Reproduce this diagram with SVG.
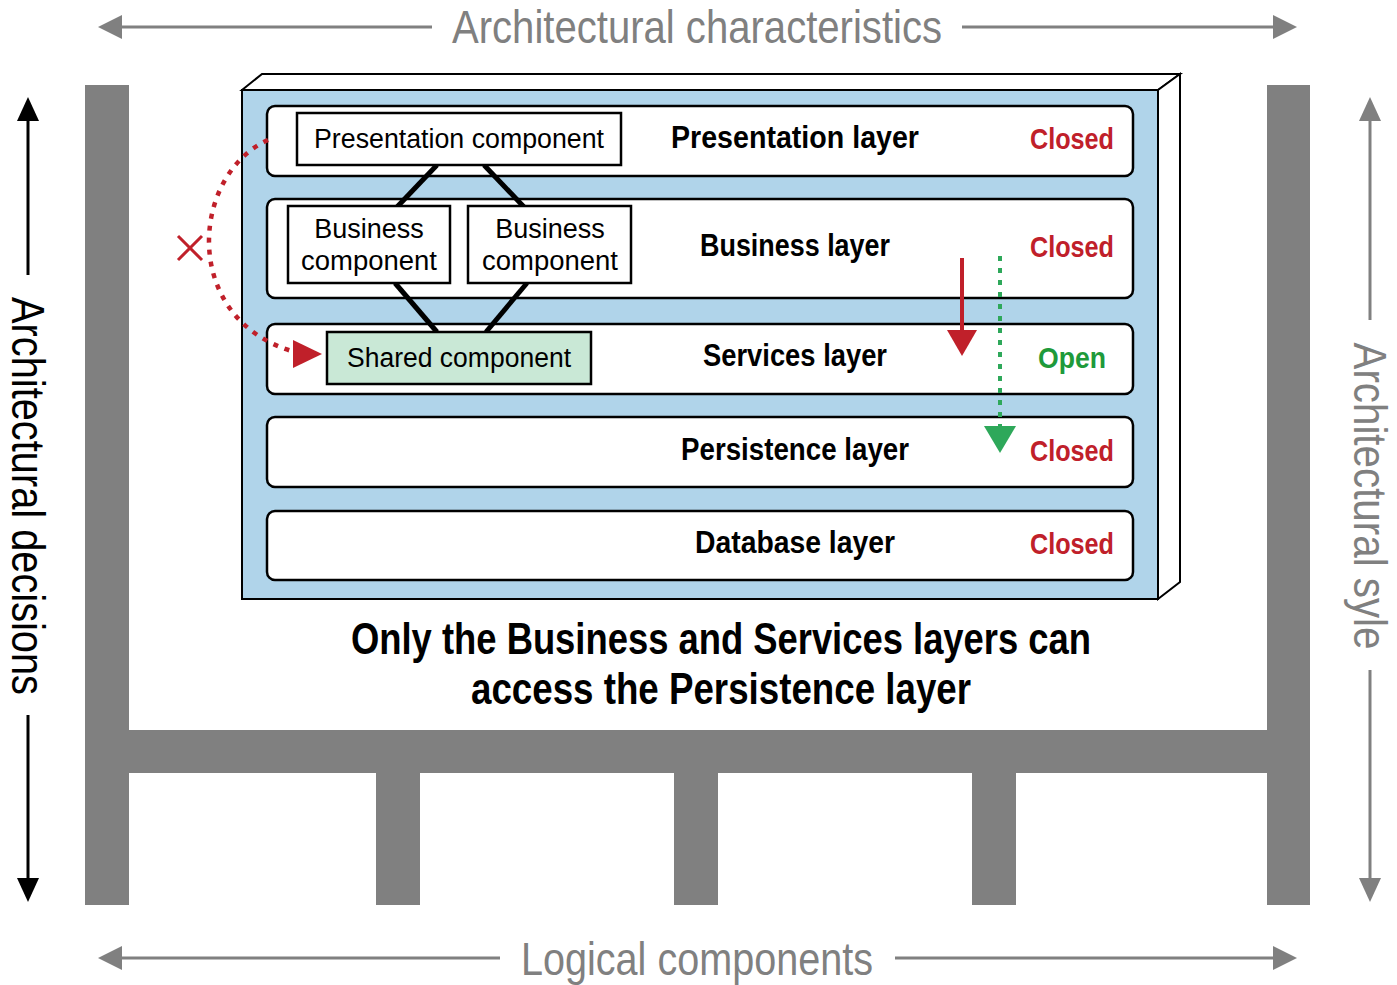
<svg xmlns="http://www.w3.org/2000/svg" width="1397" height="985" viewBox="0 0 1397 985">
<defs>
<style>
text{font-family:"Liberation Sans",Arial,sans-serif}
.g{fill:#808080}
.gl{stroke:#808080;stroke-width:3;fill:none}
.layer{fill:#fff;stroke:#000;stroke-width:2.5}
.lt{font-size:32px;text-anchor:middle;fill:#000;font-weight:bold}
.st{font-size:30px;text-anchor:middle;font-weight:bold;fill:#c0202a}
.comp{fill:#fff;stroke:#000;stroke-width:2.5}
.ct{font-size:27px;text-anchor:middle}
</style>
</defs>
<g id="frame">
<rect class="g" x="85" y="85" width="44" height="820"/>
<rect class="g" x="1267" y="85" width="43" height="820"/>
<rect class="g" x="85" y="730" width="1225" height="43"/>
<rect class="g" x="376" y="773" width="44" height="132"/>
<rect class="g" x="674" y="773" width="44" height="132"/>
<rect class="g" x="972" y="773" width="44" height="132"/>
</g>
<g id="labels-outer">
<line class="gl" x1="120" y1="27" x2="432" y2="27"/><path d="M98,27l24,-12v24z" class="g"/>
<line class="gl" x1="962" y1="27" x2="1275" y2="27"/><path d="M1297,27l-24,-12v24z" class="g"/>
<text x="697" y="43" font-size="46" text-anchor="middle" fill="#808080" textLength="490" lengthAdjust="spacingAndGlyphs">Architectural characteristics</text>
<line class="gl" x1="120" y1="958" x2="500" y2="958"/><path d="M98,958l24,-12v24z" class="g"/>
<line class="gl" x1="895" y1="958" x2="1275" y2="958"/><path d="M1297,958l-24,-12v24z" class="g"/>
<text x="697" y="975" font-size="46" text-anchor="middle" fill="#808080" textLength="352" lengthAdjust="spacingAndGlyphs">Logical components</text>
<line stroke="#000" stroke-width="3" x1="28" y1="115" x2="28" y2="275"/><path d="M28,97l-11,24h22z"/>
<line stroke="#000" stroke-width="3" x1="28" y1="715" x2="28" y2="880"/><path d="M28,902l-11,-24h22z"/>
<text transform="translate(12,496) rotate(90)" font-size="46" text-anchor="middle" textLength="398" lengthAdjust="spacingAndGlyphs">Architectural decisions</text>
<line class="gl" x1="1370" y1="115" x2="1370" y2="320"/><path d="M1370,97l-11,24h22z" class="g"/>
<line class="gl" x1="1370" y1="670" x2="1370" y2="880"/><path d="M1370,902l-11,-24h22z" class="g"/>
<text transform="translate(1354,496) rotate(90)" font-size="46" text-anchor="middle" fill="#808080" textLength="307" lengthAdjust="spacingAndGlyphs">Architectural syle</text>
</g>
<g id="box">
<polygon points="242,90 262,74 1180,74 1158,90" fill="#fff" stroke="#000" stroke-width="2"/>
<polygon points="1158,90 1180,74 1180,582 1158,599" fill="#fff" stroke="#000" stroke-width="2"/>
<rect x="242" y="90" width="916" height="509" fill="#b0d4ea" stroke="#000" stroke-width="2"/>
</g>
<g id="layers">
<rect class="layer" x="267" y="106" width="866" height="70" rx="8"/>
<rect class="layer" x="267" y="199" width="866" height="99" rx="8"/>
<rect class="layer" x="267" y="324" width="866" height="70" rx="8"/>
<rect class="layer" x="267" y="417" width="866" height="70" rx="8"/>
<rect class="layer" x="267" y="511" width="866" height="69" rx="8"/>
<text class="lt" x="795" y="148" textLength="248" lengthAdjust="spacingAndGlyphs">Presentation layer</text>
<text class="lt" x="795" y="256" textLength="190" lengthAdjust="spacingAndGlyphs">Business layer</text>
<text class="lt" x="795" y="366" textLength="184" lengthAdjust="spacingAndGlyphs">Services layer</text>
<text class="lt" x="795" y="460" textLength="228" lengthAdjust="spacingAndGlyphs">Persistence layer</text>
<text class="lt" x="795" y="553" textLength="200" lengthAdjust="spacingAndGlyphs">Database layer</text>
<text class="st" x="1072" y="149" textLength="84" lengthAdjust="spacingAndGlyphs">Closed</text>
<text class="st" x="1072" y="257" textLength="84" lengthAdjust="spacingAndGlyphs">Closed</text>
<text class="st" x="1072" y="368" style="fill:#1e9a3a" textLength="68" lengthAdjust="spacingAndGlyphs">Open</text>
<text class="st" x="1072" y="461" textLength="84" lengthAdjust="spacingAndGlyphs">Closed</text>
<text class="st" x="1072" y="554" textLength="84" lengthAdjust="spacingAndGlyphs">Closed</text>
</g>
<g id="connectors">
<g stroke="#000" stroke-width="5">
<line x1="437" y1="165" x2="397" y2="207"/><line x1="484" y1="165" x2="524" y2="207"/>
<line x1="395" y1="283" x2="437" y2="332"/><line x1="527" y1="283" x2="486" y2="332"/>
</g>
<line x1="962" y1="258" x2="962" y2="335" stroke="#c0202a" stroke-width="4"/>
<path d="M947,330h30l-15,26z" fill="#c0202a"/>
<line x1="1000" y1="256" x2="1000" y2="428" stroke="#2ea85a" stroke-width="4" stroke-dasharray="5,7"/>
<path d="M984,426h32l-16,27z" fill="#2ea85a"/>
<path d="M268,140 C190,175 180,320 295,352" fill="none" stroke="#c0202a" stroke-width="4.5" stroke-dasharray="5,7"/>
<path d="M293,340l29,14l-29,14z" fill="#c0202a"/>
<path d="M178,236l24,24M202,236l-24,24" stroke="#c0202a" stroke-width="3"/>
</g>
<g id="components">
<rect class="comp" x="297" y="113" width="324" height="52"/>
<text class="ct" x="459" y="148" textLength="290" lengthAdjust="spacingAndGlyphs">Presentation component</text>
<rect class="comp" x="288" y="206" width="162" height="77"/>
<text class="ct" x="369" y="238">Business</text><text class="ct" x="369" y="270" textLength="136" lengthAdjust="spacingAndGlyphs">component</text>
<rect class="comp" x="468" y="206" width="163" height="77"/>
<text class="ct" x="550" y="238">Business</text><text class="ct" x="550" y="270" textLength="136" lengthAdjust="spacingAndGlyphs">component</text>
<rect x="327" y="332" width="264" height="52" fill="#c9e8d6" stroke="#000" stroke-width="2.5"/>
<text class="ct" x="459" y="367" textLength="224" lengthAdjust="spacingAndGlyphs">Shared component</text>
</g>
<g id="caption">
<text x="721" y="654" font-size="44" font-weight="bold" text-anchor="middle" textLength="740" lengthAdjust="spacingAndGlyphs">Only the Business and Services layers can</text>
<text x="721" y="704" font-size="44" font-weight="bold" text-anchor="middle" textLength="500" lengthAdjust="spacingAndGlyphs">access the Persistence layer</text>
</g>
</svg>
